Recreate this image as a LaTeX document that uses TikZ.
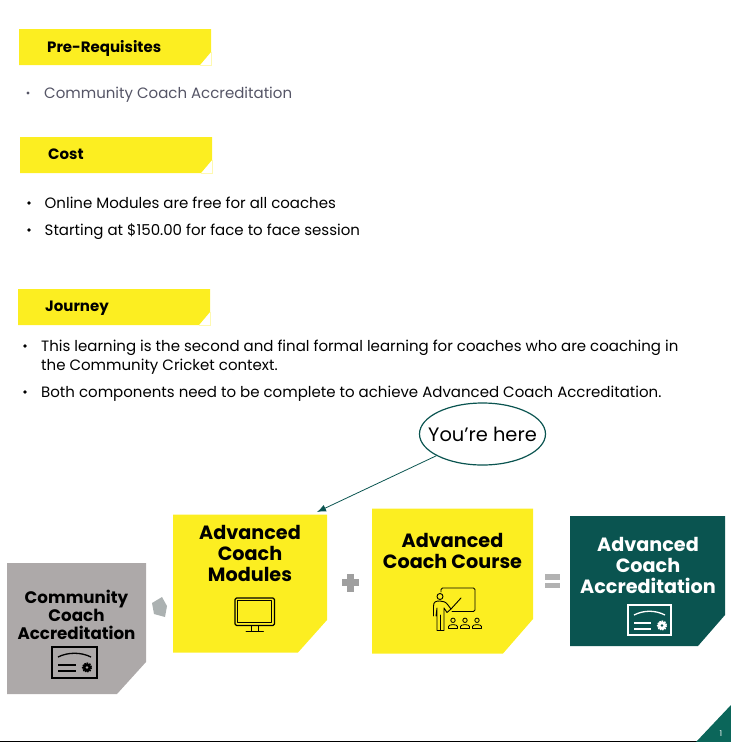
\documentclass[tikz,border=0pt]{standalone}
\usepackage{fontspec}
\setmainfont{Poppins}[BoldFont={Poppins Bold}]
\usetikzlibrary{shapes.geometric,arrows.meta}
\definecolor{yel}{HTML}{FCEE21}
\definecolor{teal1}{HTML}{0A5450}
\definecolor{teal2}{HTML}{0B665A}
\definecolor{gry}{HTML}{ADA9A9}
\definecolor{txtg}{HTML}{555566}
\definecolor{arrowg}{HTML}{ABB1B1}
\tikzset{
  tabhead/.style={anchor=base west,font=\bfseries\fontsize{15}{18}\selectfont,text=black,inner sep=0pt},
  body/.style={anchor=base west,font=\fontsize{15}{18}\selectfont,text=black,inner sep=0pt},
  bullet/.style={circle,fill=black,inner sep=0pt,minimum size=3.8pt},
  boxtitle/.style={align=center,font=\bfseries\fontsize{19.2}{21}\selectfont,text=black,inner sep=0pt},
  icon/.style={draw=black,line width=1.1pt,line cap=round,line join=round},
  tabedge/.style={draw=yel!35!white,line width=.6pt},
}
\begin{document}
\begin{tikzpicture}[x=1pt,y=-1pt]
\useasboundingbox (0,0) rectangle (731,742);
% tabs
\fill[yel] (19,29) -- (211,29) -- (211,52) -- (200,65) -- (19,65) -- cycle;
\draw[tabedge] (211,52) -- (211,65) -- (200,65);
\fill[yel] (20,137) -- (212,137) -- (212,160) -- (201,173) -- (20,173) -- cycle;
\draw[tabedge] (212,160) -- (212,173) -- (201,173);
\fill[yel] (18,289) -- (210,289) -- (210,312) -- (199,325) -- (18,325) -- cycle;
\draw[tabedge] (210,312) -- (210,325) -- (199,325);
\node[tabhead] (t1) at (47,52) {Pre-Requisites};
\node[tabhead] (t2) at (48,159.5) {Cost};
\node[tabhead] (t3) at (45,311.5) {Journey};
% bullets
\node[bullet,minimum size=3.2pt,fill=txtg] (b1) at (28,93) {};
\node[body,text=txtg] (l1) at (44,98) {Community Coach Accreditation};
\node[bullet] (b2) at (29,203) {};
\node[body] (l2) at (44.5,208) {Online Modules are free for all coaches};
\node[bullet] (b3) at (29,230) {};
\node[body] (l3) at (44.5,235) {Starting at \$150.00 for face to face session};
\node[bullet] (b4) at (25,346) {};
\node[body] (l4) at (41,351) {This learning is the second and final formal learning for coaches who are coaching in};
\node[body] (l5) at (41,370) {the Community Cricket context.};
\node[bullet] (b5) at (25,392) {};
\node[body] (l6) at (41,397) {Both components need to be complete to achieve Advanced Coach Accreditation.};
% boxes
\fill[gry] (7,563) -- (146,563) -- (146,662) -- (117,694) -- (7,694) -- cycle;
\fill[yel] (173,514.5) -- (327,514.5) -- (327,620) -- (298,652.5) -- (173,652.5) -- cycle;
\fill[yel] (372,508.5) -- (533,508.5) -- (533,619) -- (503,653.5) -- (372,653.5) -- cycle;
\fill[teal1] (570,516) -- (725,516) -- (725,615) -- (698,646) -- (570,646) -- cycle;
\node[boxtitle,font=\bfseries\fontsize{16.7}{18}\selectfont] (c) at (76.5,615) {Community\\Coach\\Accreditation};
\node[boxtitle] (m) at (250,553.5) {Advanced\\Coach\\Modules};
\node[boxtitle] (k) at (452.5,551) {Advanced\\Coach Course};
\node[boxtitle,text=white] (a) at (648,565.5) {Advanced\\Coach\\Accreditation};
% certificate icons
\begin{scope}[shift={(52,647)}]
 \draw[black,line width=1.8pt] (0,0) rectangle (45,31);
 \draw[black,line width=1.3pt] (6,10) .. controls (16,5) and (29,5) .. (39,10);
 \draw[black,line width=1.5pt] (6,18) -- (24,18) (6,24) -- (24,24);
 \draw[black,line width=1.5pt,densely dotted] (35,20.5) circle (4.4);
 \fill[black] (35,20.5) circle (4.2) ;
 \fill[gry] (35,20.5) circle (1.4);
\end{scope}
\begin{scope}[shift={(628,605)}]
 \draw[white,line width=1.8pt] (0,0) rectangle (43,30);
 \draw[white,line width=1.3pt] (6,10) .. controls (16,5) and (27,5) .. (37,10);
 \draw[white,line width=1.5pt] (6,18) -- (23,18) (6,24) -- (23,24);
 \draw[white,line width=1.5pt,densely dotted] (34,20.5) circle (4.4);
 \fill[white] (34,20.5) circle (4.2);
 \fill[teal1] (34,20.5) circle (1.4);
\end{scope}
% monitor icon
\begin{scope}[shift={(235,598)}]
 \draw[icon,rounded corners=1.5pt] (0,0) rectangle (39.5,27.5);
 \draw[icon,line width=.8pt] (2.7,2.7) rectangle (36.8,24.8);
 \draw[icon,line width=.9pt] (16.5,27.5) -- (16.5,33.5) (23,27.5) -- (23,33.5) (11,33.5) -- (28.5,33.5);
\end{scope}
% teacher icon
\begin{scope}[shift={(432,587)}]
 \draw[icon,line width=.9pt,rounded corners=1.5pt] (9,5) -- (9,1) -- (43,1) -- (43,24.5) -- (20,24.5);
 \draw[icon,line width=.9pt] (8,9.5) circle (3);
 \draw[icon,line width=.9pt] (1.5,29) -- (1.5,19) .. controls (1.5,14.5) and (4,14) .. (8,14) .. controls (11,14) and (14,15) .. (16,18) -- (19,22) -- (15,25.5) -- (12,21) -- (12,43.5) -- (5,43.5) -- (5,21) -- (4,29);
 \draw[icon,line width=.7pt] (8.5,28) -- (8.5,43.5);
 \draw[icon,line width=.9pt] (19,22) -- (29,11);
 \foreach \xx in {21,33,45}{
  \draw[icon,line width=.8pt] (\xx,33.3) circle (2.2);
  \draw[icon,line width=.8pt] (\xx-4.5,41.5) -- (\xx-4.5,39.5) .. controls (\xx-4.5,37) and (\xx+4.5,37) .. (\xx+4.5,39.5) -- (\xx+4.5,41.5) -- cycle;
 }
\end{scope}
% operators
\fill[arrowg] (152,603) -- (162,597) -- (167,606) -- (165,617) -- (154,614) -- cycle;
\fill[gray!75!white] (346.5,574) rectangle (353.5,591.5);
\fill[gray!75!white] (341.5,579) rectangle (359,586);
\fill[gray!60!white] (545,574) rectangle (560,579.5);
\fill[gray!60!white] (545,582.5) rectangle (560,588);
% callout
\node[ellipse,draw=teal1,line width=1.2pt,minimum width=126pt,minimum height=62pt,inner sep=0pt,font=\fontsize{19.4}{21}\selectfont,fill=white] (h) at (482.5,434) {\makebox[80pt][c]{You're here}};
\coordinate (tip) at (317,512);
\draw[teal1,line width=.8pt,-{Latex[length=9pt,width=7pt]}] (h) -- (tip);
% footer
\fill[black] (0,740.8) rectangle (731,742);
\fill[teal2] (731,705) -- (731,742) -- (696,742) -- cycle;
\node[font=\fontsize{8}{9}\selectfont,text=white,inner sep=0pt] (pg) at (721,733.5) {1};
\end{tikzpicture}
\end{document}
